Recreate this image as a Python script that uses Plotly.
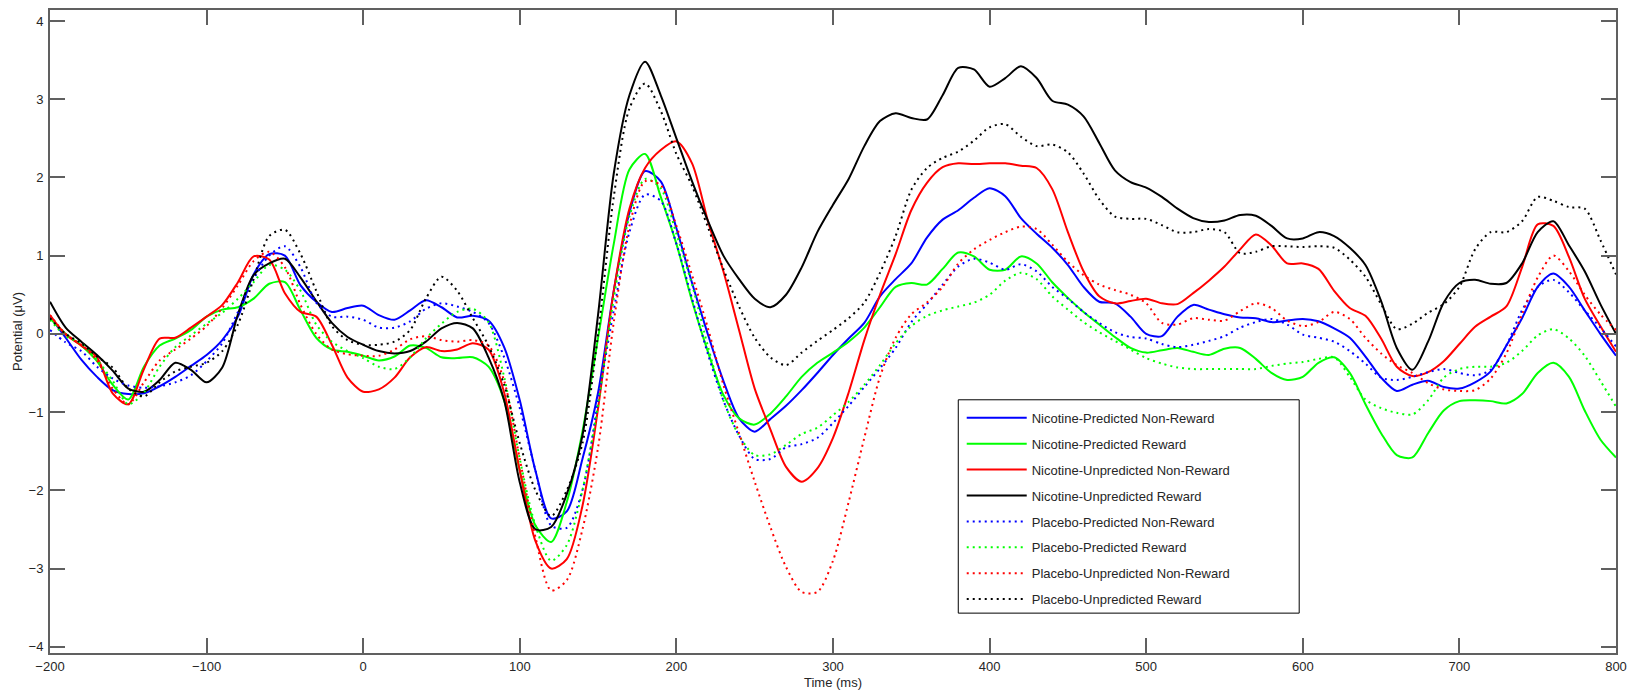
import plotly.graph_objects as go

# Sampling grid (ms) shared by all waveforms
TIME = list(range(-200, 801, 10))

# Grand-average ERP waveforms (µV), one value per 10 ms
nic_pred_nonreward = [
    0.22, -0.05, -0.33, -0.55, -0.72, -0.77, -0.76, -0.67, -0.55, -0.41,
    -0.27, -0.08, 0.22, 0.76, 1.02, 1.00, 0.62, 0.41, 0.28, 0.33,
    0.36, 0.24, 0.18, 0.30, 0.43, 0.34, 0.21, 0.23, 0.17, -0.17,
    -0.85, -1.75, -2.36, -2.27, -1.60, -0.75, 0.55, 1.55, 2.08, 1.95,
    1.35, 0.65, 0.00, -0.60, -1.08, -1.25, -1.09, -0.92, -0.72, -0.50,
    -0.27, -0.06, 0.14, 0.48, 0.70, 0.90, 1.23, 1.46, 1.58, 1.74,
    1.86, 1.76, 1.48, 1.28, 1.10, 0.88, 0.60, 0.41, 0.39, 0.22,
    0.00, -0.03, 0.22, 0.37, 0.31, 0.25, 0.21, 0.20, 0.15, 0.17,
    0.19, 0.16, 0.07, -0.05, -0.29, -0.56, -0.73, -0.65, -0.60, -0.68,
    -0.70, -0.62, -0.48, -0.15, 0.20, 0.60, 0.77, 0.60, 0.30, 0.00,
    -0.28,
]
nic_pred_reward = [
    0.20, 0.00, -0.15, -0.35, -0.65, -0.84, -0.42, -0.15, -0.06, 0.05,
    0.22, 0.31, 0.34, 0.45, 0.64, 0.66, 0.30, -0.05, -0.20, -0.23,
    -0.28, -0.34, -0.29, -0.15, -0.18, -0.30, -0.31, -0.30, -0.42, -0.85,
    -1.75, -2.45, -2.66, -2.15, -1.25, -0.05, 1.15, 2.10, 2.30, 1.75,
    1.15, 0.42, -0.22, -0.78, -1.08, -1.16, -1.02, -0.80, -0.55, -0.37,
    -0.24, -0.10, 0.08, 0.34, 0.60, 0.65, 0.63, 0.83, 1.04, 0.99,
    0.82, 0.82, 0.99, 0.90, 0.66, 0.46, 0.28, 0.12, -0.04, -0.18,
    -0.24, -0.21, -0.18, -0.23, -0.27, -0.19, -0.18, -0.32, -0.50, -0.59,
    -0.55, -0.37, -0.30, -0.50, -0.90, -1.27, -1.55, -1.58, -1.27, -0.98,
    -0.86, -0.85, -0.86, -0.89, -0.77, -0.50, -0.37, -0.55, -0.98, -1.35,
    -1.58,
]
nic_unpred_nonreward = [
    0.24, -0.01, -0.15, -0.30, -0.76, -0.90, -0.45, -0.06, -0.05, 0.08,
    0.22, 0.37, 0.66, 0.99, 0.95, 0.52, 0.28, 0.22, -0.14, -0.56,
    -0.74, -0.71, -0.56, -0.30, -0.17, -0.22, -0.20, -0.12, -0.20, -0.75,
    -1.75, -2.65, -3.00, -2.88, -2.20, -0.95, 0.55, 1.60, 2.12, 2.35,
    2.46, 2.18, 1.45, 0.80, 0.05, -0.70, -1.22, -1.70, -1.89, -1.72,
    -1.33, -0.75, -0.08, 0.50, 1.02, 1.58, 1.93, 2.13, 2.18, 2.17,
    2.18, 2.18, 2.15, 2.12, 1.85, 1.30, 0.80, 0.48, 0.39, 0.42,
    0.45, 0.39, 0.38, 0.52, 0.68, 0.86, 1.08, 1.27, 1.13, 0.90,
    0.90, 0.83, 0.55, 0.33, 0.23, -0.06, -0.42, -0.54, -0.49, -0.35,
    -0.13, 0.09, 0.22, 0.35, 0.85, 1.40, 1.38, 0.98, 0.45, 0.10,
    -0.23,
]
nic_unpred_reward = [
    0.41, 0.08, -0.10, -0.27, -0.47, -0.70, -0.74, -0.59, -0.37, -0.46,
    -0.62, -0.43, 0.25, 0.75, 0.90, 0.96, 0.72, 0.42, 0.14, -0.04,
    -0.14, -0.22, -0.25, -0.22, -0.10, 0.07, 0.14, 0.07, -0.30, -0.85,
    -1.90, -2.50, -2.47, -2.05, -1.30, 0.25, 2.05, 3.05, 3.48, 3.05,
    2.50, 1.95, 1.45, 1.00, 0.70, 0.45, 0.34, 0.50, 0.85, 1.30,
    1.65, 1.98, 2.40, 2.72, 2.82, 2.76, 2.74, 3.05, 3.40, 3.38,
    3.16, 3.27, 3.42, 3.27, 2.98, 2.93, 2.78, 2.44, 2.09, 1.94,
    1.87, 1.75, 1.60, 1.48, 1.43, 1.45, 1.52, 1.51, 1.38, 1.22,
    1.22, 1.30, 1.25, 1.10, 0.88, 0.42, -0.18, -0.46, -0.10, 0.40,
    0.65, 0.69, 0.64, 0.65, 0.90, 1.30, 1.44, 1.13, 0.80, 0.38,
    0.00,
]
plc_pred_nonreward = [
    0.05, -0.11, -0.22, -0.42, -0.57, -0.66, -0.69, -0.67, -0.62, -0.53,
    -0.35, -0.12, 0.28, 0.70, 1.00, 1.12, 0.85, 0.40, 0.22, 0.22,
    0.18, 0.08, 0.08, 0.16, 0.32, 0.39, 0.35, 0.28, 0.14, -0.30,
    -0.95, -1.75, -2.45, -2.48, -2.00, -0.85, 0.30, 1.30, 1.78, 1.70,
    1.15, 0.45, -0.25, -0.85, -1.30, -1.60, -1.60, -1.45, -1.41, -1.33,
    -1.14, -0.92, -0.68, -0.44, -0.18, 0.15, 0.38, 0.63, 0.86, 0.96,
    0.91, 0.82, 0.89, 0.80, 0.60, 0.45, 0.28, 0.14, 0.02, -0.04,
    -0.06, -0.13, -0.17, -0.14, -0.09, -0.03, 0.08, 0.15, 0.19, 0.12,
    -0.01, -0.05, -0.10, -0.22, -0.38, -0.56, -0.59, -0.55, -0.49, -0.45,
    -0.50, -0.53, -0.46, -0.15, 0.30, 0.60, 0.69, 0.53, 0.30, 0.08,
    -0.16,
]
plc_pred_reward = [
    0.18, -0.03, -0.12, -0.33, -0.60, -0.90, -0.75, -0.42, -0.17, -0.02,
    0.13, 0.27, 0.45, 0.66, 0.88, 0.82, 0.55, 0.12, -0.10, -0.22,
    -0.31, -0.42, -0.45, -0.30, -0.06, 0.13, 0.28, 0.32, 0.15, -0.55,
    -1.60, -2.45, -2.90, -2.70, -2.00, -0.90, 0.45, 1.50, 1.98, 1.86,
    1.28, 0.63, -0.15, -0.85, -1.30, -1.55, -1.54, -1.42, -1.28, -1.20,
    -1.04, -0.87, -0.65, -0.40, -0.12, 0.10, 0.23, 0.30, 0.35, 0.40,
    0.50, 0.68, 0.78, 0.70, 0.48, 0.31, 0.15, 0.02, -0.09, -0.20,
    -0.31, -0.38, -0.43, -0.45, -0.45, -0.45, -0.45, -0.45, -0.41, -0.38,
    -0.36, -0.32, -0.30, -0.55, -0.84, -0.95, -1.01, -1.03, -0.85, -0.56,
    -0.45, -0.42, -0.42, -0.37, -0.22, -0.02, 0.06, -0.06, -0.28, -0.60,
    -0.93,
]
plc_unpred_nonreward = [
    0.24, 0.00, -0.14, -0.34, -0.70, -0.90, -0.62, -0.34, -0.20, -0.06,
    0.10, 0.33, 0.62, 0.93, 1.05, 0.85, 0.37, 0.00, -0.20, -0.26,
    -0.28, -0.28, -0.20, -0.07, -0.03, -0.08, -0.10, -0.08, -0.15, -0.60,
    -1.60, -2.60, -3.28, -3.15, -2.50, -1.45, 0.15, 1.38, 1.95, 1.90,
    1.38, 0.75, 0.08, -0.65, -1.27, -1.89, -2.47, -2.98, -3.30, -3.30,
    -2.90, -2.15, -1.33, -0.55, -0.05, 0.25, 0.40, 0.60, 0.90, 1.08,
    1.20, 1.30, 1.37, 1.34, 1.14, 0.92, 0.75, 0.63, 0.56, 0.50,
    0.39, 0.14, 0.12, 0.20, 0.18, 0.17, 0.29, 0.39, 0.33, 0.17,
    0.10, 0.15, 0.28, 0.19, -0.05, -0.25, -0.40, -0.50, -0.63, -0.71,
    -0.73, -0.72, -0.57, -0.25, 0.25, 0.72, 1.00, 0.80, 0.50, 0.25,
    0.05,
]
plc_unpred_reward = [
    0.20, 0.00, -0.12, -0.29, -0.43, -0.70, -0.80, -0.62, -0.48, -0.42,
    -0.37, -0.22, 0.12, 0.70, 1.25, 1.33, 1.02, 0.55, 0.10, -0.08,
    -0.14, -0.14, -0.10, 0.05, 0.45, 0.73, 0.55, 0.20, -0.15, -0.65,
    -1.40, -2.00, -2.33, -2.00, -1.40, 0.00, 1.75, 2.88, 3.20, 2.85,
    2.30, 1.89, 1.37, 0.83, 0.35, -0.05, -0.30, -0.40, -0.24, -0.09,
    0.05, 0.20, 0.40, 0.78, 1.25, 1.84, 2.12, 2.25, 2.33, 2.47,
    2.64, 2.68, 2.52, 2.40, 2.42, 2.32, 2.05, 1.72, 1.50, 1.47,
    1.47, 1.39, 1.30, 1.30, 1.34, 1.30, 1.03, 1.05, 1.12, 1.12,
    1.11, 1.12, 1.10, 0.95, 0.73, 0.38, 0.06, 0.13, 0.27, 0.38,
    0.60, 1.08, 1.30, 1.30, 1.44, 1.75, 1.70, 1.62, 1.60, 1.20,
    0.76,
]

SERIES = [
    ("Nicotine-Predicted Non-Reward", nic_pred_nonreward, "#0000ff", "solid"),
    ("Nicotine-Predicted Reward", nic_pred_reward, "#00ff00", "solid"),
    ("Nicotine-Unpredicted Non-Reward", nic_unpred_nonreward, "#ff0000", "solid"),
    ("Nicotine-Unpredicted Reward", nic_unpred_reward, "#000000", "solid"),
    ("Placebo-Predicted Non-Reward", plc_pred_nonreward, "#0000ff", "2px,4px"),
    ("Placebo-Predicted Reward", plc_pred_reward, "#00ff00", "2px,4px"),
    ("Placebo-Unpredicted Non-Reward", plc_unpred_nonreward, "#ff0000", "2px,4px"),
    ("Placebo-Unpredicted Reward", plc_unpred_reward, "#000000", "2px,4px"),
]

X_TICKS = [-200, -100, 0, 100, 200, 300, 400, 500, 600, 700, 800]
Y_TICKS = [-4, -3, -2, -1, 0, 1, 2, 3, 4]

FONT = "Liberation Sans, Arial, sans-serif"
TEXT = "#262626"
AXIS = "#606060"

fig = go.Figure()
for i, (name, values, color, dash) in enumerate(SERIES):
    fig.add_trace(go.Scatter(
        x=TIME, y=values, name=name, mode="lines",
        legendgroup=f"g{i}",
        line=dict(color=color, width=2, dash=dash, shape="spline", smoothing=0.8),
    ))

axis_common = dict(
    showgrid=False, zeroline=False, showline=True, linecolor=AXIS, linewidth=2,
    mirror="ticks", ticks="inside", ticklen=15, tickwidth=2, tickcolor=AXIS,
    tickfont=dict(family=FONT, size=13, color=TEXT),
)

# Framed white panel behind the legend entries
fig.add_shape(
    type="rect", xref="paper", yref="paper",
    x0=0.580, x1=0.7977, y0=0.062, y1=0.3938,
    line=dict(color="#000000", width=1), fillcolor="white", layer="above",
)

fig.update_layout(
    width=1635, height=696,
    margin=dict(l=50, r=18, t=8, b=43),
    paper_bgcolor="white", plot_bgcolor="white",
    font=dict(family=FONT, size=13, color=TEXT),
    xaxis=dict(range=[-200, 800], tickvals=X_TICKS,
               title=dict(text="Time (ms)", standoff=5, font=dict(family=FONT, size=13, color=TEXT)),
               **axis_common),
    yaxis=dict(range=[-4.08, 4.14], tickvals=Y_TICKS, ticklabelstandoff=2,
               title=dict(text="Potential (μV)", standoff=3, font=dict(family=FONT, size=13, color=TEXT)),
               **axis_common),
    legend=dict(
        x=0.5822, y=0.389, xanchor="left", yanchor="top",
        bgcolor="rgba(0,0,0,0)", borderwidth=0,
        font=dict(family=FONT, size=13, color=TEXT),
        tracegroupgap=6, itemwidth=60,
    ),
    showlegend=True,
)

fig.write_html("out.html")
